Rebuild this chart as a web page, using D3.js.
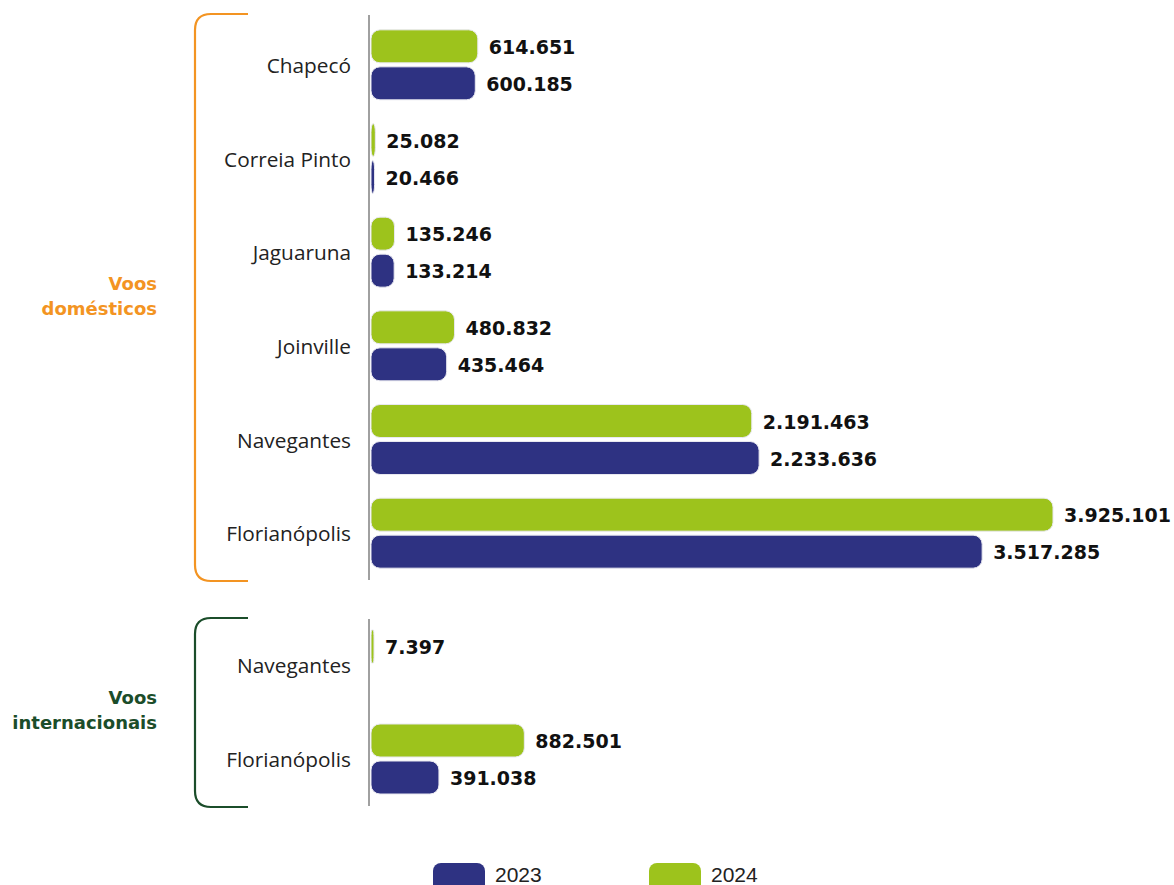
<!DOCTYPE html>
<html><head><meta charset="utf-8">
<script src="https://cdn.jsdelivr.net/npm/d3@7"></script>
<style>body{margin:0;background:#fff}svg{display:block}</style>
</head><body>
<svg id="c" width="1174" height="885"></svg>
<script>
const domCategories = ["Chapecó","Correia Pinto","Jaguaruna","Joinville","Navegantes","Florianópolis"];
const dom2024 = [614651, 25082, 135246, 480832, 2191463, 3925101];
const dom2023 = [600185, 20466, 133214, 435464, 2233636, 3517285];
const intCategories = ["Navegantes","Florianópolis"];
const int2024 = [7397, 882501];
const int2023 = [null, 391038];
const seriesNames = ["2023","2024"];
const groupLabels = [["Voos","domésticos"],["Voos","internacionais"]];

const C23 = "#2e3282", C24 = "#9dc31c";
const svg = d3.select("#c");
const x = d3.scaleLinear().domain([0, 3925101]).range([371, 1053]);
const fmt = v => d3.format(",")(v).replace(/,/g, ".");

const groups = [
  {cats: domCategories, v24: dom2024, v23: dom2023, range:[18,580], axis:[15,580], color:"#f39422", labels:groupLabels[0], labelY:[283,308]},
  {cats: intCategories, v24: int2024, v23: int2023, range:[618,806], axis:[619,806], color:"#1b4d2a", labels:groupLabels[1], labelY:[697,722]}
];

groups.forEach(g => {
  const y = d3.scaleBand().domain(g.cats).range(g.range);
  const r = 16, bx = 195, bx2 = 248, t = g.axis[0]-1, b = g.axis[1]+1;
  svg.append("path")
    .attr("d", `M${bx2},${t} H${bx+r} Q${bx},${t} ${bx},${t+r} V${b-r} Q${bx},${b} ${bx+r},${b} H${bx2}`)
    .attr("fill","none").attr("stroke", g.color).attr("stroke-width", 2.2);
  g.labels.forEach((l,i) => svg.append("text").text(l)
    .attr("x",157).attr("y",g.labelY[i]).attr("text-anchor","end").attr("dominant-baseline","central")
    .attr("font-family","DejaVu Sans").attr("font-weight","bold").attr("font-size",18).attr("fill",g.color));
  svg.append("line").attr("x1",369).attr("x2",369).attr("y1",g.axis[0]).attr("y2",g.axis[1])
    .attr("stroke","#a0a0a0").attr("stroke-width",2);
  svg.selectAll(null).data(g.cats).enter().append("text")
    .text(d=>d).attr("x",351).attr("y",d=>y(d)+y.bandwidth()/2)
    .attr("text-anchor","end").attr("dominant-baseline","central")
    .attr("font-family","Open Sans").attr("font-weight",400).attr("font-size",20.8).attr("fill","#222");
  const rows = [];
  g.cats.forEach((c,i) => {
    if (g.v24[i] != null) rows.push({c, v:g.v24[i], s:"2024"});
    if (g.v23[i] != null) rows.push({c, v:g.v23[i], s:"2023"});
  });
  const yc = d => y(d.c)+y.bandwidth()/2;
  const by = d => d.s==="2024" ? yc(d)-35 : yc(d)+2;
  svg.selectAll(null).data(rows).enter().append("rect")
    .attr("x", x(0)).attr("y", by)
    .attr("width", d => Math.max(3, x(d.v)-x(0))).attr("height", 33)
    .attr("rx", d => Math.min(9, (x(d.v)-x(0))/2)).attr("ry", 9)
    .attr("fill", d => d.s==="2024" ? C24 : C23)
    .attr("stroke","#e8e8f0").attr("stroke-width",1);
  svg.selectAll(null).data(rows).enter().append("text")
    .text(d => fmt(d.v))
    .attr("x", d => Math.max(x(0)+3, x(d.v)) + 11).attr("y", d => by(d)+17)
    .attr("dominant-baseline","central")
    .attr("font-family","DejaVu Sans").attr("font-weight","bold").attr("font-size",19).attr("fill","#111");
});

const legend = [{s:seriesNames[0], c:C23, x:433}, {s:seriesNames[1], c:C24, x:649}];
legend.forEach(l => {
  svg.append("rect").attr("x",l.x).attr("y",863).attr("width",52).attr("height",32).attr("rx",8).attr("fill",l.c);
  svg.append("text").text(l.s).attr("x",l.x+62).attr("y",882)
    .attr("font-family","Liberation Sans").attr("font-size",21).attr("fill","#222");
});
</script>
</body></html>
